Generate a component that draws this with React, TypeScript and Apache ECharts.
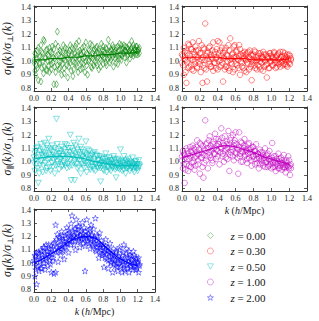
import React, { useEffect, useRef } from 'react';
import * as echarts from 'echarts';

const kBins = [
  0.00,0.01,0.02,0.03,0.04,0.05,0.06,0.07,0.08,0.09,
  0.10,0.11,0.12,0.13,0.14,0.15,0.16,0.17,0.18,0.19,
  0.20,0.21,0.22,0.23,0.24,0.25,0.26,0.27,0.28,0.29,
  0.30,0.31,0.32,0.33,0.34,0.35,0.36,0.37,0.38,0.39,
  0.40,0.41,0.42,0.43,0.44,0.45,0.46,0.47,0.48,0.49,
  0.50,0.51,0.52,0.53,0.54,0.55,0.56,0.57,0.58,0.59,
  0.60,0.61,0.62,0.63,0.64,0.65,0.66,0.67,0.68,0.69,
  0.70,0.71,0.72,0.73,0.74,0.75,0.76,0.77,0.78,0.79,
  0.80,0.81,0.82,0.83,0.84,0.85,0.86,0.87,0.88,0.89,
  0.90,0.91,0.92,0.93,0.94,0.95,0.96,0.97,0.98,0.99,
  1.00,1.01,1.02,1.03,1.04,1.05,1.06,1.07,1.08,1.09,
  1.10,1.11,1.12,1.13,1.14,1.15,1.16,1.17,1.18,1.19,
  1.20,1.21,1.22,
];

const kLine = [0.0,0.1,0.2,0.3,0.4,0.5,0.6,0.7,0.8,0.9,1.0,1.1,1.2];

const zLabels = ['z = 0.00', 'z = 0.30', 'z = 0.50', 'z = 1.00', 'z = 2.00'];

// z = 0.00
const g0A = [1.01,0.93,1.05,0.97,1.08,0.86,1.03,0.99,1.12,0.95,
  1.06,0.91,1.15,1.02,0.94,1.09,1.00,1.04,0.92,1.07,
  0.98,1.11,1.03,0.83,0.96,1.13,0.83,1.22,1.05,0.94,
  1.08,1.00,0.90,1.07,1.02,0.95,1.10,1.04,0.97,0.88,
  1.06,1.01,1.12,0.93,1.05,0.89,1.09,0.99,1.03,1.13,
  0.96,1.07,1.15,1.01,0.94,1.05,1.10,0.98,1.03,0.92,
  1.14,1.06,0.90,1.00,1.08,1.04,0.96,1.12,1.02,0.97,
  1.09,1.05,0.99,1.11,1.03,0.94,1.07,1.01,1.13,1.04,
  0.98,1.08,1.02,1.10,0.97,1.06,1.16,1.03,0.99,1.09,
  1.05,1.12,0.96,1.07,1.02,1.10,1.04,0.98,1.08,1.13,
  1.05,1.01,1.09,1.06,1.12,1.03,1.08,0.99,1.10,1.05,
  1.07,1.02,1.09,1.15,1.06,1.04,1.10,1.08,1.05,1.11,
  1.07,1.09,1.06];
const g0B = [0.99,1.06,0.90,1.02,0.95,1.10,0.98,1.04,0.85,1.07,
  1.00,1.16,0.96,1.03,1.08,0.93,1.05,0.97,1.10,1.01,
  0.94,1.06,0.99,1.09,1.02,0.92,1.04,0.97,1.11,1.00,
  0.95,1.07,1.03,0.98,1.12,0.91,1.01,1.06,1.09,1.02,
  0.96,1.08,0.99,1.04,1.10,1.00,0.94,1.06,1.11,0.98,
  1.04,0.92,1.02,1.08,1.06,0.99,0.95,1.07,1.11,1.03,
  1.00,0.97,1.05,1.09,1.01,1.13,1.03,0.95,1.06,1.08,
  1.00,1.04,1.10,0.97,1.06,1.09,1.02,0.96,1.05,1.08,
  1.11,1.03,1.06,0.99,1.09,1.02,1.05,1.11,1.07,1.01,
  1.08,1.03,1.10,1.05,1.08,0.99,1.06,1.11,1.04,1.02,
  1.09,1.12,1.04,1.10,1.06,1.08,1.11,1.07,1.04,1.09,
  1.12,1.08,1.05,1.10,1.07,1.12,1.06,1.09,1.11,1.08,
  1.05,1.08,1.10];
const g0Line = [1.01,1.01,1.02,1.02,1.03,1.03,1.04,1.04,1.05,1.05,1.06,1.06,1.07];

// z = 0.30
const r3A = [0.99,1.04,0.90,1.07,1.01,0.84,1.06,0.95,1.12,1.02,
  0.97,1.09,1.14,0.93,1.05,1.00,1.08,0.96,1.03,1.15,
  0.98,1.06,1.01,0.84,1.10,0.95,1.28,1.04,0.85,1.07,
  1.00,1.11,0.96,1.03,1.08,0.93,1.05,0.99,1.02,1.09,
  0.94,1.06,1.14,1.01,0.97,1.10,0.85,1.03,1.08,0.96,
  1.05,1.00,1.12,0.93,1.17,1.02,0.98,1.06,1.11,0.94,
  1.03,1.08,0.97,1.01,1.12,0.90,1.05,0.99,1.04,0.95,
  1.07,1.02,0.92,1.06,0.98,1.03,1.08,0.96,0.86,1.01,
  1.05,0.97,1.07,1.00,0.94,1.04,1.02,0.96,1.06,0.99,
  1.03,0.93,1.05,1.00,0.97,0.88,1.04,1.02,0.95,1.06,
  1.00,1.03,0.97,1.07,1.01,0.95,1.04,0.99,1.06,1.02,
  0.96,1.03,1.00,1.07,0.98,1.04,1.01,0.97,1.05,1.02,
  0.99,1.04,1.01];
const r3B = [1.05,0.97,1.10,1.02,0.92,1.08,1.00,1.13,0.96,1.04,
  1.09,0.94,1.01,1.07,0.98,1.11,1.03,0.95,1.08,1.00,
  1.06,0.92,1.12,1.03,0.97,1.09,1.01,0.94,1.06,1.02,
  1.10,0.98,1.05,0.96,1.02,1.14,0.99,1.07,0.95,1.03,
  1.15,1.00,0.96,1.08,1.04,0.99,1.06,1.02,0.94,1.10,
  0.96,1.04,0.95,1.08,1.01,0.99,1.05,0.92,1.03,1.12,
  0.98,1.07,1.02,0.95,1.04,1.09,1.00,0.96,1.06,1.02,
  0.93,1.05,1.01,0.99,1.07,0.94,1.02,1.05,0.98,1.04,
  1.00,1.08,0.95,1.03,1.01,0.97,1.06,1.00,0.94,1.04,
  1.02,1.07,0.96,1.01,1.05,0.98,1.03,0.95,1.06,1.00,
  1.04,0.97,1.02,1.06,0.99,1.03,0.96,1.05,1.01,0.98,
  1.07,0.99,1.04,0.97,1.02,1.06,0.98,1.03,0.96,1.01,
  1.05,0.98,1.02];
const r3Line = [1.02,1.03,1.03,1.03,1.03,1.02,1.02,1.02,1.01,1.01,1.01,1.01,1.02];

// z = 0.50
const c5A = [1.03,0.93,1.08,0.98,1.11,0.84,1.05,0.97,1.13,1.01,
  0.92,1.07,1.14,0.99,1.04,0.95,1.10,1.17,1.02,0.93,
  1.08,1.12,0.96,1.05,0.91,1.03,1.32,1.00,1.09,0.94,
  1.06,1.02,1.11,0.97,1.04,0.99,1.13,1.07,0.95,1.02,
  1.10,0.96,1.20,0.86,1.05,1.08,0.99,0.86,1.12,1.03,
  0.95,1.07,1.17,1.01,0.91,1.09,1.04,0.97,1.00,1.06,
  1.15,0.92,1.03,0.99,1.08,0.94,1.02,1.05,0.96,1.00,
  1.07,0.93,0.98,1.04,0.95,1.01,0.97,0.85,1.03,0.99,
  0.94,1.02,0.97,1.06,0.92,1.00,0.96,1.03,0.98,0.93,
  1.01,0.96,1.04,0.99,0.94,0.88,0.97,1.02,0.95,1.00,
  1.09,0.96,0.93,0.99,1.04,0.97,0.91,1.00,0.95,1.02,
  0.98,0.93,0.99,0.96,1.03,0.97,0.92,1.00,0.95,0.98,
  0.93,1.01,0.96];
const c5B = [0.99,1.06,1.01,1.10,0.95,1.03,0.91,1.08,1.00,1.05,
  1.09,0.97,1.03,1.06,0.93,1.12,1.01,1.05,0.96,1.09,
  1.03,0.99,1.07,1.01,1.10,0.97,1.04,1.13,0.98,1.06,
  1.01,1.08,0.96,1.04,1.00,1.09,0.97,1.05,1.12,0.98,
  1.03,1.07,1.01,1.10,0.97,1.04,1.14,1.00,1.06,0.98,
  1.09,1.02,0.96,1.05,1.11,0.98,1.03,1.07,0.95,1.02,
  0.99,1.05,1.09,0.97,1.01,1.04,0.96,0.99,1.06,0.94,
  1.02,0.98,1.05,0.96,1.01,0.98,1.04,0.95,0.99,1.02,
  0.97,0.93,1.00,0.98,1.03,0.96,0.99,0.94,1.01,0.97,
  1.00,0.95,0.98,1.02,0.96,0.99,0.95,0.97,1.01,0.94,
  0.98,1.00,0.96,0.99,0.94,0.97,1.01,0.95,0.98,0.96,
  1.00,0.97,0.95,0.99,0.96,0.94,0.98,0.96,1.00,0.97,
  0.95,0.98,0.97];
const c5Line = [1.02,1.03,1.04,1.04,1.04,1.03,1.02,1.00,0.99,0.98,0.97,0.97,0.97];

// z = 1.00
const m1A = [1.01,0.95,1.06,0.84,1.03,0.98,1.08,0.93,1.02,1.11,
  0.96,1.07,1.12,1.00,0.94,1.09,1.04,1.16,0.98,1.06,
  0.91,1.13,1.03,0.96,0.88,1.09,1.31,1.01,1.14,0.95,
  1.07,1.19,1.03,1.10,0.99,1.15,1.06,1.21,1.02,1.12,
  1.08,1.17,0.98,1.11,1.25,1.04,1.14,1.00,1.19,1.09,
  1.13,1.02,1.23,0.93,1.16,1.07,1.11,1.20,1.01,1.14,
  1.22,1.06,1.10,0.91,1.22,1.04,1.15,1.08,1.00,1.12,
  1.17,1.05,1.09,0.99,1.13,1.03,1.07,1.10,0.97,1.11,
  1.04,1.08,0.98,1.13,1.02,1.06,0.95,1.09,1.01,1.04,
  1.07,0.97,1.03,1.10,0.99,1.05,0.96,1.02,1.08,0.98,
  1.01,1.14,0.96,1.04,0.99,0.93,1.02,0.97,1.06,0.95,
  1.00,1.03,0.94,0.99,1.05,0.96,0.92,1.01,0.97,1.04,
  0.95,0.90,0.98];
const m1B = [1.04,1.08,0.98,1.05,0.94,1.10,1.02,1.06,0.97,1.04,
  1.08,0.99,1.05,1.10,1.03,0.97,1.11,1.06,1.01,1.09,
  1.14,1.03,1.07,1.12,1.05,0.99,1.08,1.13,1.04,1.10,
  1.16,1.05,1.12,1.08,1.01,1.13,1.10,1.06,1.17,1.09,
  1.04,1.13,1.15,1.07,1.10,1.18,1.06,1.12,1.08,1.03,
  1.15,1.10,1.07,1.13,1.05,1.18,1.09,1.04,1.12,1.16,
  1.07,1.13,1.03,1.09,1.11,1.06,1.00,1.14,1.07,1.10,
  1.04,1.12,1.08,1.02,1.06,1.14,1.09,1.01,1.07,1.04,
  1.11,1.02,1.08,1.05,0.99,1.06,1.03,0.98,1.07,1.02,
  0.99,1.05,1.01,0.96,1.04,1.00,1.06,0.97,1.02,1.00,
  0.95,1.03,0.99,1.01,0.96,1.04,0.98,1.00,0.95,1.02,
  0.97,0.99,1.01,0.96,0.98,0.95,1.00,0.97,0.99,0.96,
  1.01,0.97,0.95];
const m1Line = [1.03,1.05,1.07,1.09,1.11,1.12,1.11,1.09,1.07,1.04,1.02,1.00,0.98];

// z = 2.00
const b2A = [1.00,0.90,1.05,0.84,0.97,1.08,0.94,1.03,1.10,0.96,
  1.06,1.00,1.12,0.95,1.04,1.09,0.98,1.14,1.02,1.07,
  0.93,1.11,1.04,0.92,1.16,1.29,1.08,1.22,1.01,1.13,
  1.19,1.06,1.24,1.10,1.17,1.03,1.21,1.12,1.27,1.15,
  1.08,1.23,1.18,1.30,1.36,1.20,1.14,1.26,1.10,1.33,
  1.22,1.17,1.28,1.12,1.24,1.19,1.31,1.15,1.27,0.94,
  1.21,1.33,1.16,1.25,1.19,1.11,1.29,1.22,1.14,1.26,
  1.18,1.34,1.09,1.21,1.15,1.04,1.23,1.12,1.17,1.07,
  1.14,0.97,1.10,1.18,1.03,1.12,0.96,1.08,1.15,1.01,
  1.06,0.93,1.11,1.03,0.98,1.09,1.00,0.94,1.05,1.12,
  0.97,1.02,0.93,1.08,0.99,0.94,1.04,1.11,0.96,1.01,
  0.93,1.06,0.98,1.03,0.95,1.09,1.00,0.97,1.04,0.96,
  1.01,0.93,0.99];
const b2B = [1.02,1.06,0.95,1.08,1.03,0.98,1.07,1.01,0.96,1.09,
  1.04,1.12,1.00,1.07,1.14,1.03,1.09,1.05,1.11,0.99,
  1.13,1.07,1.02,1.15,1.10,0.93,1.18,1.12,1.09,1.20,
  1.14,1.11,1.17,1.21,1.09,1.16,1.13,1.19,1.15,1.22,
  1.25,1.17,1.20,1.14,1.19,1.24,1.21,1.17,1.26,1.19,
  1.23,1.28,1.20,1.16,1.21,1.25,1.18,1.22,1.19,1.13,
  1.24,1.20,1.17,1.22,1.15,1.26,1.18,1.21,1.13,1.19,
  1.15,1.10,1.17,1.12,1.20,1.13,1.08,1.14,1.10,1.06,
  1.12,1.08,1.04,1.13,1.07,1.09,1.02,1.10,1.05,1.00,
  1.07,1.03,0.99,1.06,1.02,1.08,0.97,1.04,1.00,1.10,
  1.03,0.98,1.06,1.01,1.14,0.96,1.02,1.07,0.99,1.04,
  1.09,1.00,0.97,1.05,1.02,0.98,1.06,1.01,0.95,1.03,
  1.00,1.04,0.98];
const b2Line = [1.00,1.03,1.07,1.11,1.16,1.19,1.20,1.19,1.14,1.08,1.03,1.00,0.98];

const yTicks = [0.8, 0.9, 1.0, 1.1, 1.2, 1.3, 1.4];

const SERIF = '"Liberation Serif", "DejaVu Serif", serif';
const STAR = 'path://M0,-10 L2.35,-3.24 L9.51,-3.09 L3.8,1.24 L5.88,8.09 L0,4 L-5.88,8.09 L-3.8,1.24 L-9.51,-3.09 L-2.35,-3.24 Z';
const TRI_DOWN = 'path://M0,0 L10,0 L5,9 Z';

const panels = [
  { name: zLabels[0], a: g0A, b: g0B, line: g0Line, color: '#008000', legendColor: '#66b366', symbol: 'diamond', size: [4, 7], lsize: [4, 7], grid: { left: 30, top: 6, width: 125, height: 85 }, yName: true, xName: false },
  { name: zLabels[1], a: r3A, b: r3B, line: r3Line, color: '#ff0000', legendColor: '#ff6666', symbol: 'circle', size: 5.5, lsize: [5, 5], grid: { left: 182, top: 6, width: 125, height: 85 }, yName: false, xName: false },
  { name: zLabels[2], a: c5A, b: c5B, line: c5Line, color: '#00bfbf', legendColor: '#55d5d5', symbol: TRI_DOWN, size: [6, 5.5], lsize: [5, 4.5], grid: { left: 30, top: 107, width: 125, height: 84 }, yName: true, xName: false },
  { name: zLabels[3], a: m1A, b: m1B, line: m1Line, color: '#bf00bf', legendColor: '#d566d5', symbol: 'circle', size: 5.5, lsize: [5, 5], grid: { left: 182, top: 107, width: 125, height: 84 }, yName: false, xName: true },
  { name: zLabels[4], a: b2A, b: b2B, line: b2Line, color: '#0000ff', legendColor: '#5555ff', symbol: STAR, size: 6, lsize: [5, 5], grid: { left: 30, top: 209, width: 125, height: 83 }, yName: true, xName: true },
];

export default function App() {
  const ref = useRef<HTMLDivElement>(null);
  useEffect(() => {
    document.body.style.margin = '0';
    const chart = echarts.init(ref.current!, null, { renderer: 'svg' });
    const axisColor = '#333';
    const xAxes: any[] = [];
    const yAxes: any[] = [];
    const series: any[] = [];
    panels.forEach((p, i) => {
      const xBase = {
        gridIndex: i, type: 'value', min: 0, max: 1.4, interval: 0.2,
        axisLine: { show: true, onZero: false, lineStyle: { color: axisColor, width: 1 } },
        axisTick: { show: true, inside: true, length: 3, lineStyle: { color: axisColor, width: 0.8 } },
        splitLine: { show: false },
      };
      xAxes.push({
        ...xBase, position: 'bottom',
        axisLabel: { fontSize: 8, fontFamily: SERIF, color: '#222', margin: 3, formatter: (v: number) => v.toFixed(1) },
        name: p.xName ? '{i|k} ({i|h}/Mpc)' : '',
        nameLocation: 'middle', nameGap: 14,
        nameTextStyle: { fontSize: 10, fontFamily: SERIF, color: '#222', rich: { i: { fontStyle: 'italic', fontSize: 10, fontFamily: SERIF, color: '#222' } } },
      });
      xAxes.push({ ...xBase, position: 'top', axisLabel: { show: false } });
      const yBase = {
        gridIndex: i, type: 'value', min: 0.78, max: 1.41,
        axisLine: { show: true, onZero: false, lineStyle: { color: axisColor, width: 1 } },
        axisTick: { show: true, inside: true, length: 3, customValues: yTicks, lineStyle: { color: axisColor, width: 0.8 } },
        splitLine: { show: false },
      };
      yAxes.push({
        ...yBase, position: 'left',
        axisLabel: { fontSize: 8, fontFamily: SERIF, color: '#222', margin: 3, customValues: yTicks, formatter: (v: number) => v.toFixed(1) },
        name: p.yName ? '{m|σ}{s|∥}{m|(k)/σ}{s|⊥}{m|(k)}' : '',
        nameLocation: 'middle', nameGap: 20, nameRotate: 90,
        nameTextStyle: {
          fontFamily: SERIF, color: '#222',
          rich: {
            m: { fontSize: 12, fontStyle: 'italic', fontFamily: SERIF, color: '#222', lineHeight: 14 },
            s: { fontSize: 8, fontStyle: 'italic', fontFamily: SERIF, color: '#222', lineHeight: 8, verticalAlign: 'bottom' },
          },
        },
      });
      yAxes.push({ ...yBase, position: 'right', axisLabel: { show: false } });
      const common = {
        type: 'scatter', name: p.name, xAxisIndex: 2 * i, yAxisIndex: 2 * i,
        symbol: p.symbol, symbolSize: p.size,
        itemStyle: { color: 'rgba(255,255,255,0)', borderColor: p.color, borderWidth: 0.6 },
        emphasis: { disabled: true },
      };
      series.push({ ...common, data: kBins.map((k, j) => [k, p.a[j]]) });
      series.push({ ...common, data: kBins.map((k, j) => [k, p.b[j]]) });
      series.push({
        type: 'line', name: 'trend ' + p.name, xAxisIndex: 2 * i, yAxisIndex: 2 * i,
        data: kLine.map((k, j) => [k, p.line[j]]), smooth: true, showSymbol: false,
        lineStyle: { color: p.color, width: 1.2 }, z: 3,
      });
    });
    chart.setOption({
      animation: false,
      backgroundColor: '#fff',
      grid: panels.map((p) => ({ ...p.grid, containLabel: false })),
      xAxis: xAxes,
      yAxis: yAxes,
      series,
      legend: {
        data: panels.map((p) => ({
          name: p.name,
          icon: p.symbol,
          itemStyle: { color: 'rgba(255,255,255,0)', borderColor: p.legendColor, borderWidth: 0.8 },
        })),
        orient: 'vertical', left: 207, top: 230, padding: 0,
        itemWidth: 6, itemHeight: 6, itemGap: 4.5,
        selectedMode: false,
        textStyle: {
          fontFamily: SERIF, fontSize: 11, color: '#111', padding: [0, 0, 0, 12], lineHeight: 10,
          rich: { i: { fontStyle: 'italic', fontFamily: SERIF, fontSize: 11, color: '#111' } },
        },
        formatter: (n: string) => n.replace('z', '{i|z}'),
      },
    });
    return () => chart.dispose();
  }, []);
  return <div ref={ref} style={{ width: 319, height: 321 }} />;
}
